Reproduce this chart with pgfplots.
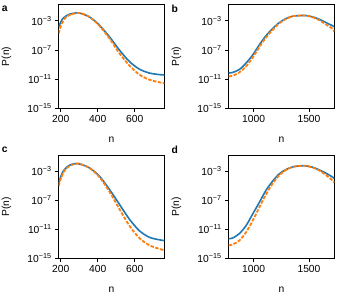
\documentclass[border=0pt]{standalone}
\usepackage{fontspec}
\setmainfont{Liberation Sans}
\usepackage{pgfplots}
\pgfplotsset{compat=1.18}
\definecolor{mblue}{HTML}{1F77B4}
\definecolor{morange}{HTML}{FF7F0E}
\begin{document}
\begin{tikzpicture}
\path[use as bounding box] (0,0) rectangle (340pt,-300pt);
% panel a
\begin{axis}[at={(58.7pt,-4.7pt)}, anchor=north west, xmin=189, xmax=760, xtick={200,400,600},
    scale only axis, width=105.6pt, height=103.3pt,
    ymode=log, ymin=1e-15, ymax=1.7e-1,
    ytick={1e-15,1e-11,1e-7,1e-3},
    yticklabels={10\textsuperscript{−15},10\textsuperscript{−11},10\textsuperscript{−7},10\textsuperscript{−3}},
    tick align=outside, tick pos=left, major tick length=3.5pt,
    axis line style={line width=0.8pt}, tick style={black, line width=0.8pt},
    font=\fontsize{10.3}{12}\selectfont,
    xticklabel style={/pgf/number format/assume math mode=true, /pgf/number format/1000 sep={}},
    ylabel={P(n)}, xlabel={n},
    ylabel style={at={(axis description cs:-0.495,0.5)},anchor=center},
    xlabel style={at={(axis description cs:0.5,-0.305)},anchor=center}]
\addplot[mblue, line width=1.6pt, smooth, tension=0.5, no marks] coordinates {(189,1.51e-4) (211,2.09e-3) (247,8.13e-3) (297,1.23e-2) (355,3.55e-3) (409,2.57e-4) (463,6.61e-6) (517,1e-7) (571,2.57e-9) (625,2.29e-10) (679,6.61e-11) (733,3.98e-11) (760,3.55e-11)};
\addplot[morange, line width=1.8pt, dash pattern=on 3.5pt off 1.5pt, smooth, tension=0.5, no marks] coordinates {(189,1.86e-5) (202,2.51e-4) (229,3.55e-3) (265,8.91e-3) (301,1.23e-2) (355,3.55e-3) (409,2.09e-4) (463,3.89e-6) (517,3.55e-8) (571,7.24e-10) (625,3.98e-11) (679,7.94e-12) (733,3.55e-12) (760,2.51e-12)};
\end{axis}
% panel b
\begin{axis}[at={(228.7pt,-4.7pt)}, anchor=north west, xmin=774, xmax=1729, xtick={1000,1500},
    scale only axis, width=105.6pt, height=103.3pt,
    ymode=log, ymin=1e-15, ymax=1.7e-1,
    ytick={1e-15,1e-11,1e-7,1e-3},
    yticklabels={10\textsuperscript{−15},10\textsuperscript{−11},10\textsuperscript{−7},10\textsuperscript{−3}},
    tick align=outside, tick pos=left, major tick length=3.5pt,
    axis line style={line width=0.8pt}, tick style={black, line width=0.8pt},
    font=\fontsize{10.3}{12}\selectfont,
    xticklabel style={/pgf/number format/assume math mode=true, /pgf/number format/1000 sep={}},
    ylabel={P(n)}, xlabel={n},
    ylabel style={at={(axis description cs:-0.495,0.5)},anchor=center},
    xlabel style={at={(axis description cs:0.5,-0.305)},anchor=center}]
\addplot[mblue, line width=1.6pt, smooth, tension=0.5, no marks] coordinates {(774,6.61e-11) (810,7.94e-11) (870,2.0e-10) (931,1.58e-9) (991,2.0e-8) (1051,5.01e-7) (1111,8.91e-6) (1172,8.91e-5) (1232,5.89e-4) (1292,2.09e-3) (1352,4.37e-3) (1413,5.37e-3) (1473,5.37e-3) (1533,3.55e-3) (1593,1.70e-3) (1654,5.89e-4) (1714,2.09e-4) (1729,1.58e-4)};
\addplot[morange, line width=1.8pt, dash pattern=on 3.5pt off 1.5pt, smooth, tension=0.5, no marks] coordinates {(774,2.29e-11) (810,2.82e-11) (870,7.94e-11) (931,5.37e-10) (991,8.91e-9) (1051,2.51e-7) (1111,5.01e-6) (1172,5.89e-5) (1232,4.79e-4) (1292,1.86e-3) (1352,4.37e-3) (1413,5.37e-3) (1473,5.37e-3) (1533,3.16e-3) (1593,1.26e-3) (1654,3.16e-4) (1714,7.94e-5) (1729,3.16e-5)};
\end{axis}
% panel c
\begin{axis}[at={(58.7pt,-155pt)}, anchor=north west, xmin=189, xmax=760, xtick={200,400,600},
    scale only axis, width=105.6pt, height=103.3pt,
    ymode=log, ymin=1e-15, ymax=1.7e-1,
    ytick={1e-15,1e-11,1e-7,1e-3},
    yticklabels={10\textsuperscript{−15},10\textsuperscript{−11},10\textsuperscript{−7},10\textsuperscript{−3}},
    tick align=outside, tick pos=left, major tick length=3.5pt,
    axis line style={line width=0.8pt}, tick style={black, line width=0.8pt},
    font=\fontsize{10.3}{12}\selectfont,
    xticklabel style={/pgf/number format/assume math mode=true, /pgf/number format/1000 sep={}},
    ylabel={P(n)}, xlabel={n},
    ylabel style={at={(axis description cs:-0.495,0.5)},anchor=center},
    xlabel style={at={(axis description cs:0.5,-0.305)},anchor=center}]
\addplot[mblue, line width=1.6pt, smooth, tension=0.5, no marks] coordinates {(189,2.51e-5) (211,7.94e-4) (247,6.61e-3) (292,1.12e-2) (355,2.82e-3) (409,2.09e-4) (463,3.16e-6) (517,2.82e-8) (571,2.51e-10) (625,6.31e-12) (679,7.94e-13) (733,3.55e-13) (760,2.82e-13)};
\addplot[morange, line width=1.8pt, dash pattern=on 3.5pt off 1.5pt, smooth, tension=0.5, no marks] coordinates {(189,8.91e-6) (202,1.26e-4) (229,2.29e-3) (265,8.13e-3) (297,1.12e-2) (355,2.82e-3) (409,1.58e-4) (463,1.58e-6) (517,6.31e-9) (571,3.16e-11) (625,6.31e-13) (679,6.31e-14) (733,2.0e-14) (760,1.26e-14)};
\end{axis}
% panel d
\begin{axis}[at={(228.7pt,-155pt)}, anchor=north west, xmin=774, xmax=1729, xtick={1000,1500},
    scale only axis, width=105.6pt, height=103.3pt,
    ymode=log, ymin=1e-15, ymax=1.7e-1,
    ytick={1e-15,1e-11,1e-7,1e-3},
    yticklabels={10\textsuperscript{−15},10\textsuperscript{−11},10\textsuperscript{−7},10\textsuperscript{−3}},
    tick align=outside, tick pos=left, major tick length=3.5pt,
    axis line style={line width=0.8pt}, tick style={black, line width=0.8pt},
    font=\fontsize{10.3}{12}\selectfont,
    xticklabel style={/pgf/number format/assume math mode=true, /pgf/number format/1000 sep={}},
    ylabel={P(n)}, xlabel={n},
    ylabel style={at={(axis description cs:-0.495,0.5)},anchor=center},
    xlabel style={at={(axis description cs:0.5,-0.305)},anchor=center}]
\addplot[mblue, line width=1.6pt, smooth, tension=0.5, no marks] coordinates {(774,5.01e-13) (810,6.31e-13) (870,2.51e-12) (931,3.16e-11) (991,1.26e-9) (1051,5.01e-8) (1111,2.29e-6) (1172,4.37e-5) (1232,4.37e-4) (1292,1.70e-3) (1352,3.89e-3) (1413,5.37e-3) (1473,5.37e-3) (1533,3.55e-3) (1593,1.51e-3) (1654,5.37e-4) (1714,1.51e-4) (1729,1e-4)};
\addplot[morange, line width=1.8pt, dash pattern=on 3.5pt off 1.5pt, smooth, tension=0.5, no marks] coordinates {(774,6.31e-14) (810,7.94e-14) (870,2.82e-13) (931,3.98e-12) (991,1.58e-10) (1051,1e-8) (1111,6.31e-7) (1172,2.0e-5) (1232,2.82e-4) (1292,1.51e-3) (1352,3.89e-3) (1413,5.37e-3) (1473,5.37e-3) (1533,3.16e-3) (1593,1.26e-3) (1654,2.82e-4) (1714,5.01e-5) (1729,2.51e-5)};
\end{axis}
\node[font=\fontsize{10.3}{12}\selectfont\bfseries] at (4.8pt,-9pt) {a};
\node[font=\fontsize{10.3}{12}\selectfont\bfseries] at (174.8pt,-9pt) {b};
\node[font=\fontsize{10.3}{12}\selectfont\bfseries] at (4.8pt,-150pt) {c};
\node[font=\fontsize{10.3}{12}\selectfont\bfseries] at (174.8pt,-150pt) {d};
\end{tikzpicture}
\end{document}
